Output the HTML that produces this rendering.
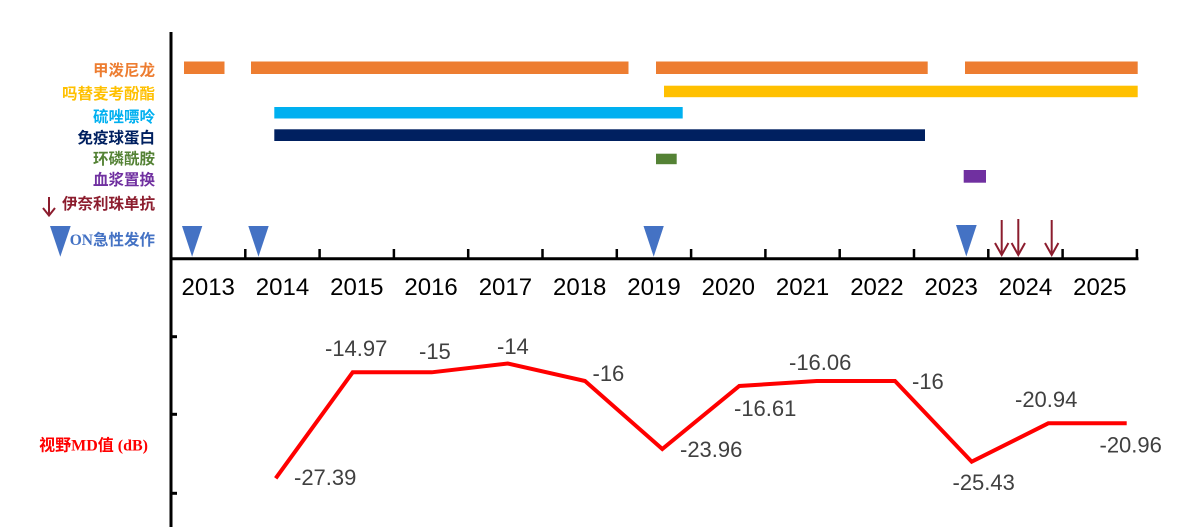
<!DOCTYPE html>
<html>
<head>
<meta charset="utf-8">
<style>
html,body{margin:0;padding:0;background:#fff;}
body{width:1183px;height:527px;overflow:hidden;}
svg{display:block;}
.lg{font-family:"Liberation Sans","Noto Sans CJK SC",sans-serif;font-weight:bold;font-size:15.5px;}
.yr{font-family:"Liberation Sans",sans-serif;font-size:24px;fill:#000;}
.vl{font-family:"Liberation Sans",sans-serif;font-size:22px;fill:#404040;}
</style>
</head>
<body>
<svg width="1183" height="527" viewBox="0 0 1183 527" xmlns="http://www.w3.org/2000/svg">
  <!-- legend labels -->
  <text class="lg" x="155" y="75.5" text-anchor="end" fill="#ED7D31">甲泼尼龙</text>
  <text class="lg" x="155" y="99" text-anchor="end" fill="#FFC000">吗替麦考酚酯</text>
  <text class="lg" x="155" y="122" text-anchor="end" fill="#00B0F0">硫唑嘌呤</text>
  <text class="lg" x="155" y="143" text-anchor="end" fill="#002060">免疫球蛋白</text>
  <text class="lg" x="155" y="164" text-anchor="end" fill="#548235">环磷酰胺</text>
  <text class="lg" x="155" y="185" text-anchor="end" fill="#7030A0">血浆置换</text>
  <text class="lg" x="155" y="209" text-anchor="end" fill="#8C1D2E">伊奈利珠单抗</text>
  <text class="lg" x="155" y="245" text-anchor="end" fill="#4472C4"><tspan font-family="Liberation Serif, serif">ON</tspan>急性发作</text>
  <!-- legend arrow -->
  <g stroke="#8C1D2E" stroke-width="2" fill="none">
    <line x1="49" y1="197" x2="49" y2="215"/>
    <polyline points="43,208 49,215.5 55,208"/>
  </g>
  <!-- legend triangle -->
  <polygon points="50,226 70.7,226 60.3,256.7" fill="#4472C4"/>

  <!-- y-axis label -->
  <text x="148" y="450.5" text-anchor="end" fill="#FF0000" font-weight="bold" font-size="16" font-family="Liberation Serif, Noto Sans CJK SC, serif"><tspan font-family="Liberation Sans, Noto Sans CJK SC, sans-serif">视野</tspan>MD<tspan font-family="Liberation Sans, Noto Sans CJK SC, sans-serif">值</tspan> (dB)</text>

  <!-- axes -->
  <line x1="171" y1="32" x2="171" y2="527" stroke="#000" stroke-width="3"/>
  <line x1="169.5" y1="258.7" x2="1138.5" y2="258.7" stroke="#000" stroke-width="3"/>
  <g stroke="#000" stroke-width="2.5">
    <line x1="245.3" y1="249" x2="245.3" y2="259"/>
    <line x1="319.6" y1="249" x2="319.6" y2="259"/>
    <line x1="393.9" y1="249" x2="393.9" y2="259"/>
    <line x1="468.2" y1="249" x2="468.2" y2="259"/>
    <line x1="542.5" y1="249" x2="542.5" y2="259"/>
    <line x1="616.8" y1="249" x2="616.8" y2="259"/>
    <line x1="691.1" y1="249" x2="691.1" y2="259"/>
    <line x1="765.4" y1="249" x2="765.4" y2="259"/>
    <line x1="839.7" y1="249" x2="839.7" y2="259"/>
    <line x1="914" y1="249" x2="914" y2="259"/>
    <line x1="988.3" y1="249" x2="988.3" y2="259"/>
    <line x1="1062.6" y1="249" x2="1062.6" y2="259"/>
    <line x1="1136.9" y1="249" x2="1136.9" y2="259"/>
  </g>
  <g stroke="#000" stroke-width="3">
    <line x1="171" y1="336.7" x2="177" y2="336.7"/>
    <line x1="171" y1="414.3" x2="177" y2="414.3"/>
    <line x1="171" y1="493.3" x2="177" y2="493.3"/>
  </g>

  <!-- year labels -->
  <g text-anchor="middle">
    <text class="yr" x="208.2" y="295">2013</text>
    <text class="yr" x="282.5" y="295">2014</text>
    <text class="yr" x="356.8" y="295">2015</text>
    <text class="yr" x="431.1" y="295">2016</text>
    <text class="yr" x="505.4" y="295">2017</text>
    <text class="yr" x="579.7" y="295">2018</text>
    <text class="yr" x="654" y="295">2019</text>
    <text class="yr" x="728.3" y="295">2020</text>
    <text class="yr" x="802.6" y="295">2021</text>
    <text class="yr" x="876.9" y="295">2022</text>
    <text class="yr" x="951.2" y="295">2023</text>
    <text class="yr" x="1025.5" y="295">2024</text>
    <text class="yr" x="1099.8" y="295">2025</text>
  </g>

  <!-- bars -->
  <g fill="#ED7D31">
    <rect x="184" y="61.5" width="40.5" height="12.5"/>
    <rect x="251" y="61.5" width="377.5" height="12.5"/>
    <rect x="656" y="61.5" width="271.7" height="12.5"/>
    <rect x="965" y="61.5" width="172.7" height="12.5"/>
  </g>
  <rect x="664" y="85.7" width="473.7" height="11.5" fill="#FFC000"/>
  <rect x="274.3" y="107" width="408.4" height="11.5" fill="#00B0F0"/>
  <rect x="274.3" y="129.3" width="650.7" height="11.7" fill="#002060"/>
  <rect x="656" y="153.7" width="20.7" height="10.5" fill="#548235"/>
  <rect x="963.7" y="170" width="22.3" height="12.7" fill="#7030A0"/>

  <!-- attack triangles -->
  <g fill="#4472C4">
    <polygon points="182,226 202.3,226 192.1,256.7"/>
    <polygon points="248.3,226 268.7,226 258.5,256.7"/>
    <polygon points="643.5,226 663.8,226 653.7,256.7"/>
    <polygon points="956,225 976.7,225 966.3,256.5"/>
  </g>

  <!-- inebilizumab arrows -->
  <g stroke="#8C1D2E" stroke-width="2" fill="none">
    <line x1="1001.7" y1="220" x2="1001.7" y2="254"/>
    <polyline points="995,243 1001.7,255 1008.4,243"/>
    <line x1="1018.3" y1="219" x2="1018.3" y2="254"/>
    <polyline points="1011.6,243 1018.3,255 1025,243"/>
    <line x1="1051.7" y1="220" x2="1051.7" y2="254"/>
    <polyline points="1045,243 1051.7,255 1058.4,243"/>
  </g>

  <!-- MD line -->
  <polyline fill="none" stroke="#FF0000" stroke-width="4" stroke-linejoin="miter" stroke-linecap="butt"
    points="275.7,478.3 352.7,372.3 431.7,372.3 507.7,363.5 585,381 662.3,449 739.3,386 816.7,381 895,381 971.7,461.7 1048.3,423.3 1126.7,423.3"/>

  <!-- value labels -->
  <text class="vl" x="294" y="485">-27.39</text>
  <text class="vl" x="325" y="356">-14.97</text>
  <text class="vl" x="419" y="359">-15</text>
  <text class="vl" x="497" y="354">-14</text>
  <text class="vl" x="592.5" y="381">-16</text>
  <text class="vl" x="680" y="457">-23.96</text>
  <text class="vl" x="734" y="416">-16.61</text>
  <text class="vl" x="789" y="370">-16.06</text>
  <text class="vl" x="912" y="389">-16</text>
  <text class="vl" x="952.5" y="490">-25.43</text>
  <text class="vl" x="1015" y="407">-20.94</text>
  <text class="vl" x="1099.5" y="452.5">-20.96</text>
</svg>
</body>
</html>
